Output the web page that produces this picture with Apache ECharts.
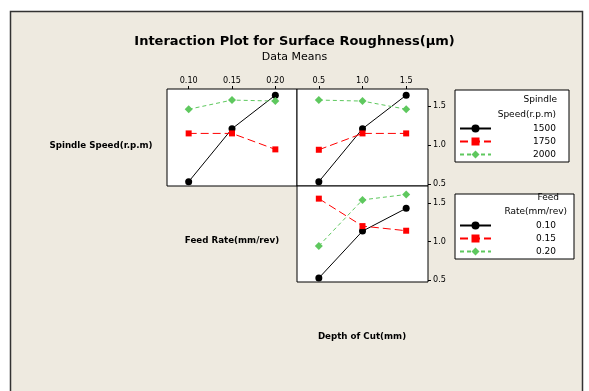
<!DOCTYPE html>
<html><head><meta charset="utf-8">
<script src="https://cdn.jsdelivr.net/npm/echarts@6/dist/echarts.min.js"></script>
<style>html,body{margin:0;padding:0;background:#fff}#c{width:589px;height:391px}</style>
</head><body><div id="c"></div>
<script>
const feedRates = ['0.10', '0.15', '0.20'];
const depths = ['0.5', '1.0', '1.5'];
const speeds = ['1500', '1750', '2000'];
const yTicks = [0.5, 1.0, 1.5];
// Panel 1: mean vs feed rate, by spindle speed
const sp1500Feed = [0.53, 1.21, 1.64];
const sp1750Feed = [1.15, 1.15, 0.945];
const sp2000Feed = [1.46, 1.578, 1.565];
// Panel 2: mean vs depth of cut, by spindle speed
const sp1500Doc = [0.53, 1.21, 1.64];
const sp1750Doc = [0.94, 1.15, 1.15];
const sp2000Doc = [1.578, 1.565, 1.46];
// Panel 3: mean vs depth of cut, by feed rate
const f010Doc = [0.526, 1.135, 1.43];
const f015Doc = [1.556, 1.2, 1.14];
const f020Doc = [0.943, 1.54, 1.61];

const FONTC = "'DejaVu Sans Condensed','DejaVu Sans',sans-serif";
const FONT = "'DejaVu Sans',sans-serif";
const styles = [
  {color: '#000000', symbol: 'circle', symbolSize: 7, type: 'solid'},
  {color: '#ff0000', symbol: 'rect', symbolSize: 6, type: [8, 4]},
  {color: '#5ec85e', symbol: 'diamond', symbolSize: 8, type: [4, 3]}
];
function mk(name, data, i, axisIndex) {
  const s = styles[i];
  return {
    type: 'line', name: name, data: data,
    xAxisIndex: axisIndex, yAxisIndex: axisIndex,
    symbol: s.symbol, symbolSize: s.symbolSize, showSymbol: true,
    itemStyle: {color: s.color},
    lineStyle: {color: s.color, width: 1, type: s.type},
    emphasis: {disabled: true}, animation: false
  };
}
const yMin = 0.475, yMax = 1.72;
function yAx(gi, show) {
  return {
    type: 'value', gridIndex: gi, min: yMin, max: yMax, position: 'right',
    splitLine: {show: false}, axisLine: {show: false},
    axisTick: {show: show, length: 3, lineStyle: {color: '#000'}, customValues: yTicks},
    axisLabel: {show: show, fontSize: 9, fontFamily: FONTC, color: '#000', margin: 5,
      customValues: yTicks, formatter: v => v.toFixed(1)}
  };
}
function xAx(gi, cats, show) {
  return {
    type: 'category', gridIndex: gi, data: cats, position: 'top', boundaryGap: true,
    axisLine: {show: false}, splitLine: {show: false},
    axisTick: {show: show, length: 3, alignWithLabel: true, lineStyle: {color: '#000'}},
    axisLabel: {show: show, fontSize: 9, fontFamily: FONTC, color: '#000', margin: 4}
  };
}
const gridStyle = {show: true, borderColor: '#000', borderWidth: 1, backgroundColor: '#fff', containLabel: false};
const legendCommon = {
  orient: 'vertical', itemWidth: 31, itemHeight: 10, itemGap: 4,
  borderColor: '#000', borderWidth: 1, backgroundColor: '#fff',
  selectedMode: false, inactiveColor: '#000',
  formatter: n => '{t|' + n + '}',
  textStyle: {color: '#000', fontFamily: FONT, fontSize: 9,
    rich: {t: {width: 60, align: 'right', fontSize: 9, fontFamily: FONT, color: '#000'}}}
};
const option = {
  backgroundColor: '#fff',
  animation: false,
  graphic: [
    {type: 'rect', z: -10, shape: {x: 10.5, y: 11.5, width: 572, height: 390},
      style: {fill: '#eeeae0', stroke: '#333', lineWidth: 1.5}},
    {type: 'text', left: 'center', top: 35, style: {text: 'Interaction Plot for Surface Roughness(μm)',
      font: "bold 13px " + FONT, fill: '#000'}},
    {type: 'text', left: 'center', top: 52, style: {text: 'Data Means', font: "11px " + FONT, fill: '#000'}},
    {type: 'text', x: 101, y: 146, style: {text: 'Spindle Speed(r.p.m)', font: "bold 8.7px " + FONT,
      fill: '#000', align: 'center', verticalAlign: 'middle'}},
    {type: 'text', x: 232, y: 241, style: {text: 'Feed Rate(mm/rev)', font: "bold 8.7px " + FONT,
      fill: '#000', align: 'center', verticalAlign: 'middle'}},
    {type: 'text', x: 362, y: 337, style: {text: 'Depth of Cut(mm)', font: "bold 8.7px " + FONT,
      fill: '#000', align: 'center', verticalAlign: 'middle'}},
    {type: 'text', x: 557, y: 100, z: 100, style: {text: 'Spindle', font: "9px " + FONT, fill: '#000', align: 'right', verticalAlign: 'middle'}},
    {type: 'text', x: 556, y: 115, z: 100, style: {text: 'Speed(r.p.m)', font: "9px " + FONT, fill: '#000', align: 'right', verticalAlign: 'middle'}},
    {type: 'text', x: 559, y: 198, z: 100, style: {text: 'Feed', font: "9px " + FONT, fill: '#000', align: 'right', verticalAlign: 'middle'}},
    {type: 'text', x: 567, y: 212, z: 100, style: {text: 'Rate(mm/rev)', font: "9px " + FONT, fill: '#000', align: 'right', verticalAlign: 'middle'}}
  ],
  legend: [
    Object.assign({}, legendCommon, {data: speeds, left: 455, top: 90, padding: [34, 13, 3, 4]}),
    Object.assign({}, legendCommon, {data: feedRates, left: 455, top: 194, padding: [27, 18, 3, 4]})
  ],
  grid: [
    Object.assign({left: 167, top: 89, width: 130, height: 97}, gridStyle),
    Object.assign({left: 297, top: 89, width: 131, height: 97}, gridStyle),
    Object.assign({left: 297, top: 186, width: 131, height: 96}, gridStyle)
  ],
  xAxis: [xAx(0, feedRates, true), xAx(1, depths, true), xAx(2, depths, false)],
  yAxis: [yAx(0, false), yAx(1, true), yAx(2, true)],
  series: [
    mk(speeds[0], sp1500Feed, 0, 0), mk(speeds[1], sp1750Feed, 1, 0), mk(speeds[2], sp2000Feed, 2, 0),
    mk(speeds[0], sp1500Doc, 0, 1), mk(speeds[1], sp1750Doc, 1, 1), mk(speeds[2], sp2000Doc, 2, 1),
    mk(feedRates[0], f010Doc, 0, 2), mk(feedRates[1], f015Doc, 1, 2), mk(feedRates[2], f020Doc, 2, 2)
  ]
};
const chart = echarts.init(document.getElementById('c'), null, {renderer: 'canvas'});
chart.setOption(option);
</script></body></html>
